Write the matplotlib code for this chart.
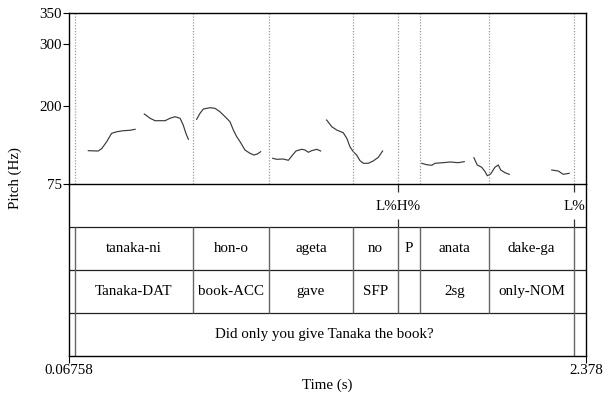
import matplotlib
matplotlib.use('Agg')
import matplotlib.pyplot as plt

plt.rcParams['font.family'] = ['Liberation Serif', 'DejaVu Serif']
plt.rcParams['font.size'] = 10.8

T0, T1 = 0.06758, 2.378
F_LO, F_HI = 75, 350

# f0 track, one list pair per voiced stretch (s, Hz)
seg_t = [
    [0.154, 0.198, 0.214, 0.236, 0.258, 0.281, 0.310, 0.340, 0.363],
    [0.404, 0.430, 0.452, 0.497, 0.519, 0.541, 0.564, 0.578, 0.590, 0.601],
    [0.638, 0.653, 0.668, 0.698, 0.720, 0.742, 0.765, 0.787, 0.802, 0.817, 0.832, 0.854, 0.876, 0.894, 0.909, 0.924],
    [0.978, 0.996, 1.025, 1.048, 1.063, 1.082, 1.108, 1.122, 1.137, 1.152, 1.175, 1.192],
    [1.219, 1.242, 1.264, 1.293, 1.309, 1.323, 1.338, 1.353, 1.368, 1.383, 1.405, 1.427, 1.450, 1.469],
    [1.644, 1.666, 1.689, 1.703, 1.740, 1.770, 1.807, 1.834],
    [1.877, 1.892, 1.912, 1.927, 1.937, 1.952, 1.971, 1.986, 1.997, 2.016, 2.035],
    [2.225, 2.254, 2.276, 2.303],
]
seg_f = [
    [128.6, 128.0, 132.0, 143.0, 156.5, 159.0, 160.7, 161.4, 163.0],
    [187.6, 180.7, 176.8, 176.8, 180.7, 183.2, 180.7, 169.9, 156.5, 146.9],
    [179.0, 188.7, 195.6, 197.7, 196.7, 191.3, 183.2, 175.2, 161.8, 151.1, 143.0, 129.7, 124.4, 121.6, 123.2, 126.9],
    [116.3, 114.7, 115.2, 113.1, 120.0, 128.1, 130.8, 129.7, 126.0, 128.6, 130.8, 128.1],
    [177.9, 167.1, 161.8, 157.5, 148.5, 135.0, 126.9, 121.6, 112.5, 108.3, 108.3, 112.0, 117.9, 128.1],
    [108.3, 106.0, 105.1, 108.3, 109.3, 110.4, 109.3, 110.9],
    [117.3, 105.6, 101.9, 94.8, 88.3, 91.1, 101.9, 105.6, 97.5, 93.2, 90.6],
    [97.5, 95.9, 90.6, 92.2],
]

# interval tiers
bounds = [0.0944, 0.6217, 0.9614, 1.3367, 1.5378, 1.6361, 1.9445, 2.3243]
words = ['tanaka-ni', 'hon-o', 'ageta', 'no', 'P', 'anata', 'dake-ga']
glosses = ['Tanaka-DAT', 'book-ACC', 'gave', 'SFP', '', '2sg', 'only-NOM']
trans_bounds = [0.0944, 2.3243]
translation = 'Did only you give Tanaka the book?'
# point tier
tone_t = [1.5378, 2.3243]
tone_lab = ['L%H%', 'L%']

fig = plt.figure(figsize=(6.05, 3.94), dpi=100)
L, W = 69/605, (586-69)/605
ax = fig.add_axes([L, 1-184/394, W, (184-13)/394])
tx = fig.add_axes([L, 1-356/394, W, (356-184)/394])

for t, f in zip(seg_t, seg_f):
    ax.plot(t, f, color='#3a3a3a', lw=0.85)
for b in bounds:
    ax.axvline(b, color='#9a9a9a', lw=0.9, ls=(0, (1, 1.3)))
ax.set_xlim(T0, T1)
ax.set_ylim(F_LO, F_HI)
ax.set_yticks([75, 200, 300, 350])
ax.set_xticks([])
ax.tick_params(axis='y', direction='out', length=4, width=0.8, pad=1)
for s in ax.spines.values():
    s.set_linewidth(1.0)
ax.spines['bottom'].set_visible(False)

tx.set_xlim(T0, T1)
tx.set_ylim(4, 0)
tx.set_yticks([])
for s in tx.spines.values():
    s.set_linewidth(1.0)
for y in [1, 2, 3]:
    tx.axhline(y, color='#222222', lw=0.9)

# tone points: ticks at top and bottom of the tier
for t, lab in zip(tone_t, tone_lab):
    tx.vlines(t, 0, 0.19, color='#333333', lw=0.9)
    tx.vlines(t, 0.81, 1, color='#333333', lw=0.9)
    tx.text(t, 0.52, lab, ha='center', va='center')

edges = [T0] + bounds + [T1]
for row, labels in [(1, words), (2, glosses)]:
    tx.vlines(bounds, row, row+1, color='#666666', lw=1.0)
    for a, b, lab in zip(edges[1:-2], edges[2:-1], labels):
        tx.text((a+b)/2, row+0.5, lab, ha='center', va='center')
tx.vlines(trans_bounds, 3, 4, color='#666666', lw=1.0)
tx.text(sum(trans_bounds)/2, 3.5, translation, ha='center', va='center')

tx.set_xticks([T0, T1])
tx.set_xticklabels(['0.06758', '2.378'])
tx.tick_params(axis='x', direction='out', length=5, width=0.8, pad=1)
tx.set_xlabel('Time (s)', labelpad=1)

fig.text(15/605, 1-178/394, 'Pitch (Hz)', rotation=90, ha='center', va='center')

fig.savefig('out.png', dpi=100)
